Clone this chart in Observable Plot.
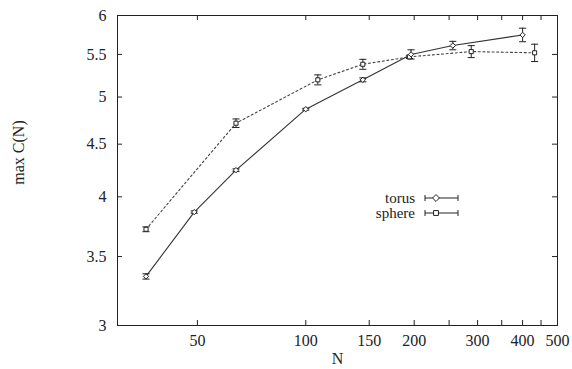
<!DOCTYPE html>
<html>
<head>
<meta charset="utf-8">
<script src="https://cdn.jsdelivr.net/npm/d3@7"></script>
<script src="https://cdn.jsdelivr.net/npm/@observablehq/plot@0.6"></script>
<style>
  html, body { margin: 0; padding: 0; background: #fff; }
  #chart { position: relative; width: 572px; height: 369px; }
  svg { font-family: "Liberation Serif", "DejaVu Serif", serif; }
</style>
</head>
<body>
<div id="chart"></div>
<script>
// ---- data ----
const torusN   = [36, 49, 64, 100, 144, 196, 256, 400];
const torusC   = [3.348, 3.866, 4.246, 4.866, 5.196, 5.50, 5.61, 5.745];
const torusErr = [0.02, 0.01, 0.012, 0.01, 0.023, 0.057, 0.053, 0.087];

const sphereN   = [36, 64, 108, 144, 194, 288, 432];
const sphereC   = [3.72, 4.716, 5.196, 5.38, 5.47, 5.535, 5.52];
const sphereErr = [0.02, 0.045, 0.058, 0.06, 0.02, 0.074, 0.107];

const xTickLabels = [50, 100, 150, 200, 300, 400, 500];
const xMinorTicks = [250, 350, 450];
const yTickLabels = [3, 3.5, 4, 4.5, 5, 5.5, 6];

const xLabel = "N";
const yLabel = "max C(N)";
const seriesNames = ["torus", "sphere"];

// ---- build tables ----
const torus = torusN.map((n, i) => ({N: n, C: torusC[i], lo: torusC[i] - torusErr[i], hi: torusC[i] + torusErr[i]}));
const sphere = sphereN.map((n, i) => ({N: n, C: sphereC[i], lo: sphereC[i] - sphereErr[i], hi: sphereC[i] + sphereErr[i]}));
const xAllTicks = xTickLabels.concat(xMinorTicks);

const cap = {draw(ctx, size) { const w = Math.sqrt(size); ctx.moveTo(-w, 0); ctx.lineTo(w, 0); }};

const W = 572, H = 369;
const mL = 117, mR = 15, mT = 15, mB = 44;
const innerH = H - mT - mB, innerW = W - mL - mR;
const tick = 5;
const ink = "#222";

function errorMarks(data, color) {
  return [
    Plot.ruleX(data, {x: "N", y1: "lo", y2: "hi", stroke: color, strokeWidth: 1}),
    Plot.dot(data, {x: "N", y: "lo", symbol: cap, r: 2, stroke: color, strokeWidth: 1, fill: "none"}),
    Plot.dot(data, {x: "N", y: "hi", symbol: cap, r: 2, stroke: color, strokeWidth: 1, fill: "none"})
  ];
}

const plot = Plot.plot({
  width: W, height: H,
  marginLeft: mL, marginRight: mR, marginTop: mT, marginBottom: mB,
  style: {fontFamily: "'Liberation Serif', 'DejaVu Serif', serif", fontSize: "16px", background: "#fff", color: ink},
  x: {type: "log", domain: [30, 500], axis: null},
  y: {type: "log", domain: [3, 6], axis: null},
  marks: [
    // ticks (inward) on all sides
    Plot.tickX(xAllTicks, {x: d => d, insetTop: innerH - tick, stroke: ink}),
    Plot.tickX(xAllTicks, {x: d => d, insetBottom: innerH - tick, stroke: ink}),
    Plot.tickY(yTickLabels, {y: d => d, insetRight: innerW - tick, stroke: ink}),
    Plot.tickY(yTickLabels, {y: d => d, insetLeft: innerW - tick, stroke: ink}),
    // tick labels
    Plot.text(xTickLabels, {x: d => d, text: d => String(d), frameAnchor: "bottom", lineAnchor: "top", dy: 9, fontSize: 16, fill: ink}),
    Plot.text(yTickLabels, {y: d => d, text: d => String(d), frameAnchor: "left", textAnchor: "end", dx: -11, fontSize: 16, fill: ink}),
    // axis titles
    Plot.text([xLabel], {frameAnchor: "bottom", lineAnchor: "middle", textAnchor: "middle", dy: 33, fontSize: 16, text: d => d, fill: ink}),
    Plot.text([yLabel], {frameAnchor: "left", textAnchor: "middle", lineAnchor: "middle", dx: -99, dy: -18, rotate: -90, fontSize: 16, text: d => d, fill: ink}),
    // series
    Plot.line(sphere, {x: "N", y: "C", stroke: "#444", strokeWidth: 1.1, strokeDasharray: "2,2.6"}),
    Plot.line(torus, {x: "N", y: "C", stroke: "#333", strokeWidth: 1.1}),
    ...errorMarks(sphere, ink),
    ...errorMarks(torus, ink),
    Plot.dot(sphere, {x: "N", y: "C", symbol: "square2", r: 2.6, stroke: ink, strokeWidth: 1, fill: "white"}),
    Plot.dot(torus, {x: "N", y: "C", symbol: "diamond2", r: 2.4, stroke: ink, strokeWidth: 1, fill: "white"}),
    Plot.frame({stroke: ink, strokeWidth: 1})
  ]
});
document.getElementById("chart").appendChild(plot);

// ---- legend (key) ----
const svg = d3.select(plot);
const key = svg.append("g").attr("font-family", "'Liberation Serif', 'DejaVu Serif', serif").attr("font-size", 15);
const rows = [{name: seriesNames[0], sym: "diamond", y: 198}, {name: seriesNames[1], sym: "square", y: 213}];
rows.forEach(r => {
  key.append("text").attr("x", 415).attr("y", r.y).attr("dy", "0.32em").attr("text-anchor", "end").attr("fill", ink).text(r.name);
  key.append("path").attr("d", `M425,${r.y}H458M425,${r.y - 3}v6M458,${r.y - 3}v6`).attr("stroke", ink).attr("fill", "none");
  const s = r.sym === "diamond" ? d3.symbol(d3.symbolDiamond2, 30)() : d3.symbol(d3.symbolSquare2, 30)();
  key.append("path").attr("d", s).attr("transform", `translate(436,${r.y})`).attr("stroke", ink).attr("fill", "white");
});
</script>
</body>
</html>
